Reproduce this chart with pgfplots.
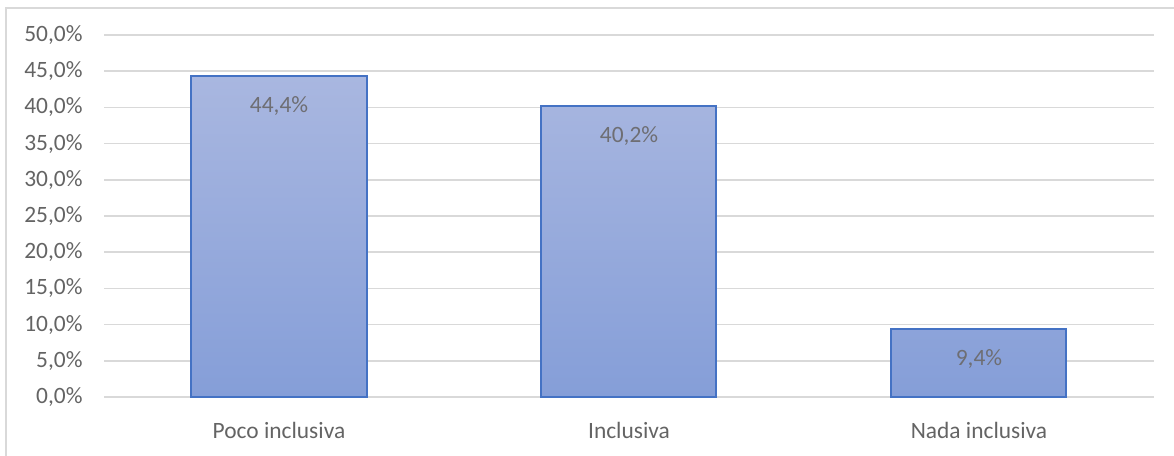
\documentclass[border=0pt]{standalone}
\usepackage{pgfplots}
\pgfplotsset{compat=1.18}
\usepackage{fontspec}
\setmainfont{Carlito}
\definecolor{gridc}{RGB}{217,217,217}
\definecolor{txt}{RGB}{100,100,100}
\definecolor{lbl}{RGB}{110,110,115}
\definecolor{barline}{RGB}{68,114,196}
\definecolor{bartop}{RGB}{169,183,224}
\definecolor{barbot}{RGB}{133,158,216}
\begin{document}
\begin{tikzpicture}[x=1bp,y=1bp]
\useasboundingbox (0,0) rectangle (1174,456);
\draw[gridc, line width=1.5bp] (6,0) -- (6,448) -- (1174,448);
\begin{axis}[
  at={(104bp,59bp)}, anchor=south west,
  scale only axis, width=1050bp, height=362bp,
  xmin=-0.5, xmax=2.5, ymin=0, ymax=50,
  axis line style={draw=none},
  ytick={0,5,...,50},
  yticklabels={{0,0\%},{5,0\%},{10,0\%},{15,0\%},{20,0\%},{25,0\%},{30,0\%},{35,0\%},{40,0\%},{45,0\%},{50,0\%}},
  xtick={0,1,2},
  xticklabels={Poco inclusiva,Inclusiva,Nada inclusiva},
  major tick length=0pt,
  ymajorgrids, grid style={gridc, line width=1.5bp},
  tick label style={font=\fontsize{23.5}{26}\selectfont, text=txt},
  yticklabel style={xshift=-18bp},
  xticklabel style={yshift=-22bp},
  /pgf/number format/assume math mode=true,
  clip=false,
]
\addplot[ybar, bar width=175bp, draw=barline, line width=2bp,
  top color=bartop, bottom color=barbot,
  point meta=explicit symbolic,
  nodes near coords,
  every node near coord/.append style={anchor=center, yshift=-30bp, font=\fontsize{23.5}{26}\selectfont, text=lbl}]
  coordinates {(0,44.4) [44,4\%] (1,40.2) [40,2\%] (2,9.4) [9,4\%]};
\end{axis}
\end{tikzpicture}
\end{document}
